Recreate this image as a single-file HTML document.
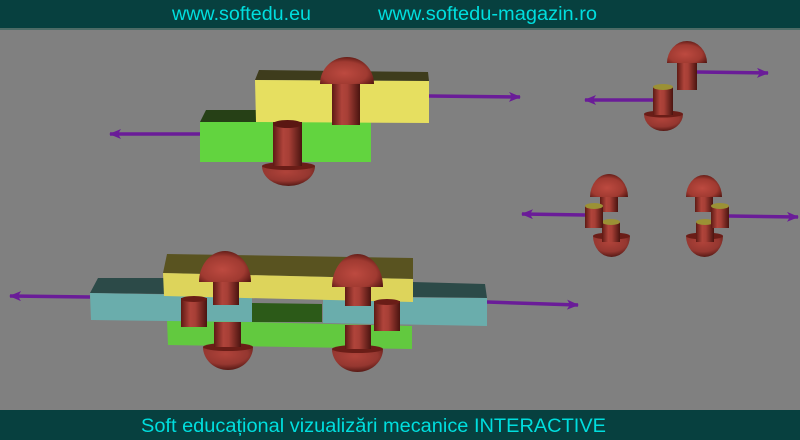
<!DOCTYPE html>
<html><head><meta charset="utf-8"><style>
html,body{margin:0;padding:0;background:#808080;}
svg{display:block;}
text{font-family:"Liberation Sans",Arial,sans-serif;}
</style></head><body>
<svg width="800" height="440" viewBox="0 0 800 440" xmlns="http://www.w3.org/2000/svg">
<defs>
<linearGradient id="cyl" x1="0" x2="1" y1="0" y2="0">
<stop offset="0" stop-color="#5e1a14"/><stop offset="0.35" stop-color="#b0443b"/><stop offset="0.55" stop-color="#a73f36"/><stop offset="1" stop-color="#4a1410"/></linearGradient>
<radialGradient id="dome" cx="0.45" cy="0.6" r="0.65">
<stop offset="0" stop-color="#bd4a40"/><stop offset="0.65" stop-color="#a03a31"/><stop offset="1" stop-color="#551712"/></radialGradient>
<radialGradient id="bdome" cx="0.45" cy="0.3" r="0.75">
<stop offset="0" stop-color="#b0433a"/><stop offset="0.6" stop-color="#953730"/><stop offset="1" stop-color="#4a1410"/></radialGradient>
<marker id="ah" markerWidth="12" markerHeight="10" refX="11" refY="5" orient="auto" markerUnits="userSpaceOnUse">
<path d="M0,0 L12,5 L0,10 L3,5 Z" fill="#6a1c98"/></marker>
</defs>
<rect x="0" y="0" width="800" height="440" fill="#808080"/>
<rect x="0" y="0" width="800" height="28" fill="#07403f"/>
<rect x="0" y="28" width="800" height="2" fill="#4d6b66"/>
<text x="172" y="20" font-size="19" fill="#00dede" textLength="139" lengthAdjust="spacingAndGlyphs">www.softedu.eu</text>
<text x="378" y="20" font-size="19" fill="#00dede" textLength="219" lengthAdjust="spacingAndGlyphs">www.softedu-magazin.ro</text>
<rect x="0" y="410" width="800" height="30" fill="#07403f"/>
<text x="141" y="432" font-size="19" fill="#00dede" textLength="465" lengthAdjust="spacingAndGlyphs">Soft educațional vizualizări mecanice INTERACTIVE</text>

<g stroke="#6a1c98" stroke-width="3.5" fill="none">
<line x1="429" y1="96" x2="520" y2="97" marker-end="url(#ah)"/>
<line x1="200" y1="134" x2="110" y2="134" marker-end="url(#ah)"/>
<line x1="697" y1="72" x2="768" y2="73" marker-end="url(#ah)"/>
<line x1="653" y1="100" x2="585" y2="100" marker-end="url(#ah)"/>
<line x1="585" y1="215" x2="522" y2="214" marker-end="url(#ah)"/>
<line x1="729" y1="216" x2="798" y2="217" marker-end="url(#ah)"/>
<line x1="90" y1="297" x2="10" y2="296" marker-end="url(#ah)"/>
<line x1="487" y1="302" x2="578" y2="305" marker-end="url(#ah)"/>
</g>

<polygon points="206,110 258,110 258,122 200,122" fill="#264016"/>
<rect x="200" y="122" width="171" height="40" fill="#62d43f"/>
<polygon points="259,70 428,72 429,81 255,80" fill="#3e3c1c"/>
<polygon points="255,80 429,81 429,123 256,122" fill="#e6df60"/>
<rect x="273" y="122" width="29" height="44" fill="url(#cyl)"/>
<ellipse cx="287.5" cy="124" rx="14.5" ry="4" fill="#5a1712"/>
<path d="M262,166 A26.5,20 0 0 0 315,166 Z" fill="url(#bdome)"/>
<ellipse cx="288.5" cy="166" rx="26.5" ry="4" fill="#6a1d17"/>
<rect x="273" y="160" width="29" height="6" fill="url(#cyl)"/>
<rect x="332" y="82" width="28" height="43" fill="url(#cyl)"/>
<path d="M320,84 A27,27 0 0 1 374,84 Z" fill="url(#dome)"/>

<rect x="653" y="87" width="20" height="30" fill="url(#cyl)"/>
<ellipse cx="663" cy="87" rx="10" ry="3" fill="#9b9135"/>
<path d="M644,114 A19.5,17 0 0 0 683,114 Z" fill="url(#bdome)"/>
<ellipse cx="663.5" cy="114" rx="19.5" ry="3.5" fill="#6a1d17"/>
<rect x="653" y="108" width="20" height="7" fill="url(#cyl)"/>
<rect x="677" y="60" width="20" height="30" fill="url(#cyl)"/>
<path d="M667,63 A20,22 0 0 1 707,63 Z" fill="url(#dome)"/>

<path d="M593,236 A18.5,21 0 0 0 630,236 Z" fill="url(#bdome)"/>
<ellipse cx="611.5" cy="236" rx="18.5" ry="3.5" fill="#6a1d17"/>
<rect x="602" y="222" width="18" height="20" fill="url(#cyl)"/>
<ellipse cx="611" cy="222" rx="9" ry="3" fill="#9b9135"/>
<rect x="600" y="195" width="18" height="17" fill="url(#cyl)"/>
<path d="M590,197 A19,23 0 0 1 628,197 Z" fill="url(#dome)"/>
<rect x="585" y="206" width="18" height="22" fill="url(#cyl)"/>
<ellipse cx="594" cy="206" rx="9" ry="3" fill="#9b9135"/>

<path d="M686,236 A18.5,21 0 0 0 723,236 Z" fill="url(#bdome)"/>
<ellipse cx="704.5" cy="236" rx="18.5" ry="3.5" fill="#6a1d17"/>
<rect x="696" y="222" width="18" height="20" fill="url(#cyl)"/>
<ellipse cx="705" cy="222" rx="9" ry="3" fill="#9b9135"/>
<rect x="695" y="195" width="18" height="17" fill="url(#cyl)"/>
<path d="M686,197 A18,22 0 0 1 722,197 Z" fill="url(#dome)"/>
<rect x="711" y="206" width="18" height="22" fill="url(#cyl)"/>
<ellipse cx="720" cy="206" rx="9" ry="3" fill="#9b9135"/>

<polygon points="252,303 322,304 322,322 252,322" fill="#2c5a18"/>
<polygon points="167,320 412,326 412,349 168,345" fill="#62c93f"/>
<polygon points="98,278 165,278 165,294 90,293" fill="#2c4a48"/>
<polygon points="90,293 252,296 252,322 91,320" fill="#6aadac"/>
<polygon points="413,282 485,284 487,298 413,297" fill="#2c4a48"/>
<polygon points="323,297 487,298 487,326 323,323" fill="#6aadac"/>
<polygon points="167,254 413,258 413,279 163,273" fill="#595320"/>
<polygon points="163,273 413,279 413,302 164,296" fill="#ddd45b"/>
<rect x="214" y="322" width="27" height="28" fill="url(#cyl)"/>
<path d="M203,347 A25,23 0 0 0 253,347 Z" fill="url(#bdome)"/>
<ellipse cx="228" cy="347" rx="25" ry="4" fill="#6a1d17"/>
<rect x="214" y="341" width="27" height="6" fill="url(#cyl)"/>
<rect x="181" y="298" width="26" height="29" fill="url(#cyl)"/>
<ellipse cx="194" cy="299" rx="13" ry="3" fill="#6a1d17"/>
<rect x="213" y="280" width="26" height="25" fill="url(#cyl)"/>
<path d="M199,282 A26,31 0 0 1 251,282 Z" fill="url(#dome)"/>
<rect x="345" y="325" width="26" height="27" fill="url(#cyl)"/>
<path d="M332,349 A25.5,23 0 0 0 383,349 Z" fill="url(#bdome)"/>
<ellipse cx="357.5" cy="349" rx="25.5" ry="4" fill="#6a1d17"/>
<rect x="345" y="343" width="26" height="6" fill="url(#cyl)"/>
<rect x="374" y="301" width="26" height="30" fill="url(#cyl)"/>
<ellipse cx="387" cy="302" rx="13" ry="3" fill="#6a1d17"/>
<rect x="345" y="284" width="26" height="22" fill="url(#cyl)"/>
<path d="M332,287 A25.5,33 0 0 1 383,287 Z" fill="url(#dome)"/>
</svg>
</body></html>
